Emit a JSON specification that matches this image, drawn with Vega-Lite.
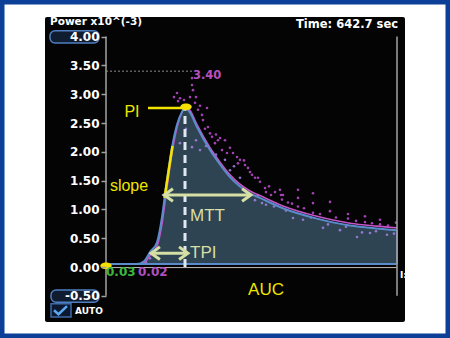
{
  "$schema": "https://vega.github.io/schema/vega-lite/v6.json",
  "width": 450,
  "height": 338,
  "autosize": "none",
  "padding": 0,
  "background": "white",
  "config": {
    "view": {"stroke": "#0b3f98", "strokeWidth": 9, "fill": "white"},
    "axis": {"labelOverlap": false, "labelBound": false, "labelFlush": false, "grid": false, "domain": false, "title": null}
  },
  "resolve": {"axis": {"x": "independent", "y": "independent"}},
  "datasets": {
    "panel": [{"t": -61, "t2": 299, "v": 4.34, "v2": -0.955}],
    "curve": [
      {"t": 0, "v": 0.05, "p": 0.05},
      {"t": 31, "v": 0.05, "p": 0.05},
      {"t": 38, "v": 0.1, "p": 0.07},
      {"t": 44, "v": 0.26, "p": 0.2},
      {"t": 51, "v": 0.43, "p": 0.36},
      {"t": 56, "v": 0.87, "p": 0.75},
      {"t": 60, "v": 1.39, "p": 1.25},
      {"t": 66, "v": 2.08, "p": 1.98},
      {"t": 71, "v": 2.47, "p": 2.42},
      {"t": 76, "v": 2.69, "p": 2.69},
      {"t": 79, "v": 2.76, "p": 2.79},
      {"t": 84, "v": 2.68, "p": 2.72},
      {"t": 91, "v": 2.43, "p": 2.47},
      {"t": 104, "v": 2.03, "p": 2.07},
      {"t": 114, "v": 1.78, "p": 1.82},
      {"t": 124, "v": 1.56, "p": 1.6},
      {"t": 144, "v": 1.28, "p": 1.32},
      {"t": 154, "v": 1.2, "p": 1.24},
      {"t": 177, "v": 1.02, "p": 1.06},
      {"t": 211, "v": 0.84, "p": 0.88},
      {"t": 244, "v": 0.72, "p": 0.76},
      {"t": 270, "v": 0.67, "p": 0.71},
      {"t": 291, "v": 0.64, "p": 0.68}
    ],
    "dots": [
      {"t": 71, "v": 3.02, "g": "hi"}, {"t": 74, "v": 2.93, "g": "hi"}, {"t": 72, "v": 2.88, "g": "hi"},
      {"t": 86, "v": 3.28, "g": "hi"}, {"t": 86, "v": 3.16, "g": "hi"}, {"t": 87, "v": 3.07, "g": "hi"},
      {"t": 89, "v": 2.85, "g": "hi"}, {"t": 92, "v": 2.73, "g": "hi"}, {"t": 96, "v": 2.64, "g": "hi"},
      {"t": 101, "v": 2.76, "g": "hi"}, {"t": 97, "v": 2.55, "g": "hi"}, {"t": 102, "v": 2.43, "g": "hi"},
      {"t": 106, "v": 2.26, "g": "hi"}, {"t": 109, "v": 2.15, "g": "hi"}, {"t": 112, "v": 2.2, "g": "hi"},
      {"t": 116, "v": 2.03, "g": "hi"}, {"t": 121, "v": 1.98, "g": "hi"}, {"t": 131, "v": 1.91, "g": "hi"},
      {"t": 132, "v": 1.8, "g": "hi"}, {"t": 84, "v": 2.95, "g": "hi"}, {"t": 90, "v": 2.95, "g": "hi"},
      {"t": 99, "v": 2.4, "g": "hi"}, {"t": 104, "v": 2.32, "g": "hi"}, {"t": 110, "v": 2.3, "g": "hi"},
      {"t": 114, "v": 2.24, "g": "hi"}, {"t": 119, "v": 2.2, "g": "hi"}, {"t": 124, "v": 2.07, "g": "hi"},
      {"t": 127, "v": 1.98, "g": "hi"}, {"t": 134, "v": 1.86, "g": "hi"}, {"t": 139, "v": 1.77, "g": "hi"},
      {"t": 144, "v": 1.65, "g": "hi"}, {"t": 146, "v": 1.6, "g": "hi"}, {"t": 149, "v": 1.55, "g": "hi"},
      {"t": 154, "v": 1.48, "g": "hi"}, {"t": 159, "v": 1.37, "g": "hi"}, {"t": 169, "v": 1.3, "g": "hi"},
      {"t": 174, "v": 1.34, "g": "hi"}, {"t": 175, "v": 1.25, "g": "hi"}, {"t": 176, "v": 1.17, "g": "hi"},
      {"t": 177, "v": 1.25, "g": "hi"}, {"t": 192, "v": 1.34, "g": "hi"}, {"t": 192, "v": 1.2, "g": "hi"},
      {"t": 192, "v": 1.05, "g": "hi"}, {"t": 207, "v": 1.28, "g": "hi"}, {"t": 207, "v": 1.11, "g": "hi"},
      {"t": 207, "v": 0.94, "g": "hi"}, {"t": 224, "v": 1.13, "g": "hi"}, {"t": 224, "v": 0.97, "g": "hi"},
      {"t": 242, "v": 0.92, "g": "hi"}, {"t": 242, "v": 0.84, "g": "hi"}, {"t": 259, "v": 0.88, "g": "hi"},
      {"t": 259, "v": 0.78, "g": "hi"}, {"t": 274, "v": 0.82, "g": "hi"}, {"t": 274, "v": 0.74, "g": "hi"},
      {"t": 290, "v": 0.77, "g": "hi"}, {"t": 160, "v": 1.3, "g": "hi"}, {"t": 165, "v": 1.25, "g": "hi"},
      {"t": 182, "v": 1.12, "g": "hi"}, {"t": 186, "v": 1.1, "g": "hi"}, {"t": 198, "v": 1.02, "g": "hi"},
      {"t": 214, "v": 0.92, "g": "hi"}, {"t": 230, "v": 0.86, "g": "hi"}, {"t": 250, "v": 0.8, "g": "hi"},
      {"t": 266, "v": 0.76, "g": "hi"}, {"t": 282, "v": 0.72, "g": "hi"}, {"t": 68, "v": 2.95, "g": "hi"},
      {"t": 78, "v": 2.9, "g": "hi"}, {"t": 94, "v": 2.8, "g": "hi"}, {"t": 138, "v": 1.85, "g": "hi"},
      {"t": 142, "v": 1.72, "g": "hi"}, {"t": 152, "v": 1.55, "g": "hi"}, {"t": 163, "v": 1.4, "g": "hi"},
      {"t": 74, "v": 2.15, "g": "lo"}, {"t": 86, "v": 2.08, "g": "lo"}, {"t": 94, "v": 2.03, "g": "lo"},
      {"t": 80, "v": 2.4, "g": "lo"}, {"t": 90, "v": 2.2, "g": "lo"}, {"t": 100, "v": 2.1, "g": "lo"},
      {"t": 110, "v": 1.95, "g": "lo"}, {"t": 119, "v": 1.86, "g": "lo"}, {"t": 124, "v": 1.68, "g": "lo"},
      {"t": 134, "v": 1.55, "g": "lo"}, {"t": 128, "v": 1.75, "g": "lo"}, {"t": 149, "v": 1.16, "g": "lo"},
      {"t": 156, "v": 1.11, "g": "lo"}, {"t": 152, "v": 1.25, "g": "lo"}, {"t": 160, "v": 1.08, "g": "lo"},
      {"t": 168, "v": 1.05, "g": "lo"}, {"t": 180, "v": 0.98, "g": "lo"}, {"t": 187, "v": 0.85, "g": "lo"},
      {"t": 197, "v": 0.82, "g": "lo"}, {"t": 205, "v": 0.86, "g": "lo"}, {"t": 217, "v": 0.68, "g": "lo"},
      {"t": 222, "v": 0.74, "g": "lo"}, {"t": 234, "v": 0.64, "g": "lo"}, {"t": 240, "v": 0.7, "g": "lo"},
      {"t": 251, "v": 0.52, "g": "lo"}, {"t": 256, "v": 0.6, "g": "lo"}, {"t": 264, "v": 0.59, "g": "lo"},
      {"t": 270, "v": 0.62, "g": "lo"}, {"t": 281, "v": 0.56, "g": "lo"}, {"t": 288, "v": 0.58, "g": "lo"},
      {"t": 44, "v": 0.15, "g": "lo"}, {"t": 50, "v": 0.3, "g": "lo"}, {"t": 40, "v": 0.08, "g": "lo"}
    ],
    "grayrules": [
      {"t": 0, "t2": 0, "v": -0.5, "v2": 4.0},
      {"t": 291, "t2": 291, "v": -0.5, "v2": 4.0}
    ],
    "zeroline": [{"t": 0, "t2": 291, "v": -0.01, "v2": -0.01}],
    "blueedges": [
      {"t": 0, "t2": 291, "v": 0.05, "v2": 0.05},
      {"t": 291, "t2": 291, "v": 0.05, "v2": 0.64}
    ],
    "maxline": [{"t": 0, "t2": 86, "v": 3.4, "v2": 3.4}],
    "peakline": [{"t": 79, "t2": 79, "v": 0.0, "v2": 2.72}],
    "yellowlines": [
      {"t": 42, "t2": 78, "v": 2.76, "v2": 2.76},
      {"t": 58.5, "t2": 66.5, "v": 1.2, "v2": 2.1}
    ],
    "yellowdots": [{"t": 80, "v": 2.78}, {"t": 0, "v": 0.02}],
    "arrows": [
      {"t": 59, "t2": 144, "v": 1.25, "v2": 1.25},
      {"t": 46, "t2": 81, "v": 0.24, "v2": 0.24}
    ],
    "headsL": [{"t": 62.5, "v": 1.25}, {"t": 49.5, "v": 0.24}],
    "headsR": [{"t": 140.5, "v": 1.25}, {"t": 77.5, "v": 0.24}],
    "greentext": [{"t": 84, "v": 0.885, "s": "MTT"}, {"t": 84, "v": 0.24, "s": "TPI"}],
    "yellowtext": [{"t": 26, "v": 2.69, "s": "PI"}, {"t": 23, "v": 1.41, "s": "slope"}],
    "auc": [{"t": 160, "v": -0.4, "s": "AUC"}],
    "boxes": [
      {"t": -56, "t2": -7, "v": 4.1, "v2": 3.89},
      {"t": -55, "t2": -7, "v": -0.4, "v2": -0.61}
    ],
    "checkbox": [{"t": -55, "t2": -35, "v": -0.64, "v2": -0.87}],
    "check": [{"t": -52, "v": -0.75}, {"t": -47.5, "v": -0.82}, {"t": -39, "v": -0.68}]
  },
  "layer": [
    {
      "data": {"name": "panel"},
      "mark": {"type": "rect", "color": "#040404", "cornerRadius": 2},
      "encoding": {
        "x": {"field": "t", "type": "quantitative", "scale": {"domain": [-106, 344], "nice": false, "zero": false}, "axis": null},
        "x2": {"field": "t2"},
        "y": {"field": "v", "type": "quantitative", "title": null, "scale": {"domain": [-1.2326, 4.6354], "nice": false, "zero": false},
          "axis": {"orient": "left", "offset": -106, "zindex": 2, "domain": false, "grid": false, "title": null,
            "values": [-0.5, 0, 0.5, 1, 1.5, 2, 2.5, 3, 3.5, 4], "format": ".2f",
            "labelExpr": "replace(datum.label, /\u2212/, '-')",
            "labelOverlap": false, "labelBound": false, "labelFlush": false,
            "tickSize": 5, "tickColor": "#a0a0a0", "tickWidth": 1.5, "labelPadding": 2,
            "labelColor": "#ffffff", "labelFont": "DejaVu Sans", "labelFontWeight": "bold", "labelFontSize": 12}},
        "y2": {"field": "v2"}
      }
    },
    {
      "data": {"name": "curve"},
      "mark": {"type": "area", "color": "#2e4452", "interpolate": "monotone", "opacity": 1},
      "encoding": {
        "x": {"field": "t", "type": "quantitative", "axis": null},
        "y": {"field": "v", "type": "quantitative", "axis": null},
        "y2": {"datum": 0.05}
      }
    },
    {
      "data": {"name": "zeroline"},
      "mark": {"type": "rule", "color": "#c2b8ba", "strokeWidth": 1},
      "encoding": {
        "x": {"field": "t", "type": "quantitative", "axis": null}, "x2": {"field": "t2"},
        "y": {"field": "v", "type": "quantitative", "axis": null}, "y2": {"field": "v2"}
      }
    },
    {
      "data": {"name": "dots"},
      "mark": {"type": "circle", "size": 7, "opacity": 0.9},
      "encoding": {
        "x": {"field": "t", "type": "quantitative", "axis": null},
        "y": {"field": "v", "type": "quantitative", "axis": null},
        "color": {"field": "g", "type": "nominal", "scale": {"domain": ["hi", "lo"], "range": ["#b548c8", "#9d7ddc"]}, "legend": null}
      }
    },
    {
      "data": {"name": "curve"},
      "mark": {"type": "line", "color": "#c654c6", "strokeWidth": 1.6, "interpolate": "monotone"},
      "encoding": {
        "x": {"field": "t", "type": "quantitative", "axis": null},
        "y": {"field": "p", "type": "quantitative", "axis": null}
      }
    },
    {
      "data": {"name": "curve"},
      "mark": {"type": "line", "color": "#5a8ccc", "strokeWidth": 2, "interpolate": "monotone"},
      "encoding": {
        "x": {"field": "t", "type": "quantitative", "axis": null},
        "y": {"field": "v", "type": "quantitative", "axis": null}
      }
    },
    {
      "data": {"name": "blueedges"},
      "mark": {"type": "rule", "color": "#5a8ccc", "strokeWidth": 2},
      "encoding": {
        "x": {"field": "t", "type": "quantitative", "axis": null}, "x2": {"field": "t2"},
        "y": {"field": "v", "type": "quantitative", "axis": null}, "y2": {"field": "v2"}
      }
    },
    {
      "data": {"name": "grayrules"},
      "mark": {"type": "rule", "color": "#9a9a9a", "strokeWidth": 1.6},
      "encoding": {
        "x": {"field": "t", "type": "quantitative", "axis": null}, "x2": {"field": "t2"},
        "y": {"field": "v", "type": "quantitative", "axis": null}, "y2": {"field": "v2"}
      }
    },
    {
      "data": {"name": "maxline"},
      "mark": {"type": "rule", "color": "#8c8c8c", "strokeWidth": 1, "strokeDash": [2, 2]},
      "encoding": {
        "x": {"field": "t", "type": "quantitative", "axis": null}, "x2": {"field": "t2"},
        "y": {"field": "v", "type": "quantitative", "axis": null}, "y2": {"field": "v2"}
      }
    },
    {
      "data": {"name": "peakline"},
      "mark": {"type": "rule", "color": "#dfe8f2", "strokeWidth": 3, "strokeDash": [8, 5]},
      "encoding": {
        "x": {"field": "t", "type": "quantitative", "axis": null}, "x2": {"field": "t2"},
        "y": {"field": "v", "type": "quantitative", "axis": null}, "y2": {"field": "v2"}
      }
    },
    {
      "data": {"name": "yellowlines"},
      "mark": {"type": "rule", "color": "#f2e400", "strokeWidth": 2.5},
      "encoding": {
        "x": {"field": "t", "type": "quantitative", "axis": null}, "x2": {"field": "t2"},
        "y": {"field": "v", "type": "quantitative", "axis": null}, "y2": {"field": "v2"}
      }
    },
    {
      "data": {"name": "yellowdots"},
      "mark": {"type": "point", "filled": true, "color": "#f5e000", "opacity": 1, "size": 130,
        "shape": "M-1,0A1,0.6 0 1,0 1,0A1,0.6 0 1,0 -1,0Z"},
      "encoding": {
        "x": {"field": "t", "type": "quantitative", "axis": null},
        "y": {"field": "v", "type": "quantitative", "axis": null}
      }
    },
    {
      "data": {"name": "arrows"},
      "mark": {"type": "rule", "color": "#d6dfa4", "strokeWidth": 3},
      "encoding": {
        "x": {"field": "t", "type": "quantitative", "axis": null}, "x2": {"field": "t2"},
        "y": {"field": "v", "type": "quantitative", "axis": null}, "y2": {"field": "v2"}
      }
    },
    {
      "data": {"name": "headsL"},
      "mark": {"type": "point", "filled": false, "color": "#d6dfa4", "strokeWidth": 3, "opacity": 1, "size": 160,
        "shape": "M0.7,-1L-0.7,0L0.7,1"},
      "encoding": {
        "x": {"field": "t", "type": "quantitative", "axis": null},
        "y": {"field": "v", "type": "quantitative", "axis": null}
      }
    },
    {
      "data": {"name": "headsR"},
      "mark": {"type": "point", "filled": false, "color": "#d6dfa4", "strokeWidth": 3, "opacity": 1, "size": 160,
        "shape": "M-0.7,-1L0.7,0L-0.7,1"},
      "encoding": {
        "x": {"field": "t", "type": "quantitative", "axis": null},
        "y": {"field": "v", "type": "quantitative", "axis": null}
      }
    },
    {
      "data": {"name": "greentext"},
      "mark": {"type": "text", "align": "left", "baseline": "middle", "font": "Liberation Sans", "fontSize": 17, "color": "#d6dfa4"},
      "encoding": {
        "x": {"field": "t", "type": "quantitative", "axis": null},
        "y": {"field": "v", "type": "quantitative", "axis": null},
        "text": {"field": "s"}
      }
    },
    {
      "data": {"name": "yellowtext"},
      "mark": {"type": "text", "align": "center", "baseline": "middle", "font": "Liberation Sans", "fontSize": 16, "color": "#f0e400"},
      "encoding": {
        "x": {"field": "t", "type": "quantitative", "axis": null},
        "y": {"field": "v", "type": "quantitative", "axis": null},
        "text": {"field": "s"}
      }
    },
    {
      "data": {"name": "auc"},
      "mark": {"type": "text", "align": "center", "baseline": "middle", "font": "Liberation Sans", "fontSize": 17, "color": "#f0e400"},
      "encoding": {
        "x": {"field": "t", "type": "quantitative", "axis": null},
        "y": {"field": "v", "type": "quantitative", "axis": null},
        "text": {"field": "s"}
      }
    },
    {
      "data": {"values": [{"t": 87, "v": 3.32, "s": "3.40"}]},
      "mark": {"type": "text", "align": "left", "baseline": "middle", "font": "DejaVu Sans", "fontWeight": "bold", "fontSize": 11.5, "color": "#b850c0"},
      "encoding": {
        "x": {"field": "t", "type": "quantitative", "axis": null},
        "y": {"field": "v", "type": "quantitative", "axis": null},
        "text": {"field": "s"}
      }
    },
    {
      "data": {"values": [{"t": 0, "v": -0.08, "s": "0.03"}]},
      "mark": {"type": "text", "align": "left", "baseline": "middle", "font": "DejaVu Sans", "fontWeight": "bold", "fontSize": 12, "color": "#3cb83c"},
      "encoding": {
        "x": {"field": "t", "type": "quantitative", "axis": null},
        "y": {"field": "v", "type": "quantitative", "axis": null},
        "text": {"field": "s"}
      }
    },
    {
      "data": {"values": [{"t": 32, "v": -0.08, "s": "0.02"}]},
      "mark": {"type": "text", "align": "left", "baseline": "middle", "font": "DejaVu Sans", "fontWeight": "bold", "fontSize": 12, "color": "#b050c0"},
      "encoding": {
        "x": {"field": "t", "type": "quantitative", "axis": null},
        "y": {"field": "v", "type": "quantitative", "axis": null},
        "text": {"field": "s"}
      }
    },
    {
      "data": {"values": [{"t": -56, "v": 4.25, "s": "Power x10^(-3)"}]},
      "mark": {"type": "text", "align": "left", "baseline": "middle", "font": "DejaVu Sans", "fontWeight": "bold", "fontSize": 10.5, "color": "#ffffff"},
      "encoding": {
        "x": {"field": "t", "type": "quantitative", "axis": null},
        "y": {"field": "v", "type": "quantitative", "axis": null},
        "text": {"field": "s"}
      }
    },
    {
      "data": {"values": [{"t": 292, "v": 4.2, "s": "Time: 642.7 sec"}]},
      "mark": {"type": "text", "align": "right", "baseline": "middle", "font": "DejaVu Sans", "fontWeight": "bold", "fontSize": 11.5, "color": "#ffffff"},
      "encoding": {
        "x": {"field": "t", "type": "quantitative", "axis": null},
        "y": {"field": "v", "type": "quantitative", "axis": null},
        "text": {"field": "s"}
      }
    },
    {
      "data": {"values": [{"t": 294, "v": -0.14, "s": "I:"}]},
      "mark": {"type": "text", "align": "left", "baseline": "middle", "font": "DejaVu Sans", "fontWeight": "bold", "fontSize": 9, "color": "#ffffff"},
      "encoding": {
        "x": {"field": "t", "type": "quantitative", "axis": null},
        "y": {"field": "v", "type": "quantitative", "axis": null},
        "text": {"field": "s"}
      }
    },
    {
      "data": {"name": "boxes"},
      "mark": {"type": "rect", "color": "#101c30", "stroke": "#4f7fc0", "strokeWidth": 1.5, "cornerRadius": 5},
      "encoding": {
        "x": {"field": "t", "type": "quantitative", "axis": null}, "x2": {"field": "t2"},
        "y": {"field": "v", "type": "quantitative", "axis": null}, "y2": {"field": "v2"}
      }
    },
    {
      "data": {"name": "checkbox"},
      "mark": {"type": "rect", "color": "#0c1830", "stroke": "#3d6aa8", "strokeWidth": 1.5},
      "encoding": {
        "x": {"field": "t", "type": "quantitative", "axis": null}, "x2": {"field": "t2"},
        "y": {"field": "v", "type": "quantitative", "axis": null}, "y2": {"field": "v2"}
      }
    },
    {
      "data": {"name": "check"},
      "mark": {"type": "line", "color": "#5aa8f0", "strokeWidth": 2.5},
      "encoding": {
        "x": {"field": "t", "type": "quantitative", "axis": null},
        "y": {"field": "v", "type": "quantitative", "axis": null}
      }
    },
    {
      "data": {"values": [{"t": -31, "v": -0.76, "s": "AUTO"}]},
      "mark": {"type": "text", "align": "left", "baseline": "middle", "font": "DejaVu Sans", "fontWeight": "bold", "fontSize": 9, "color": "#ffffff"},
      "encoding": {
        "x": {"field": "t", "type": "quantitative", "axis": null},
        "y": {"field": "v", "type": "quantitative", "axis": null},
        "text": {"field": "s"}
      }
    }
  ]
}
